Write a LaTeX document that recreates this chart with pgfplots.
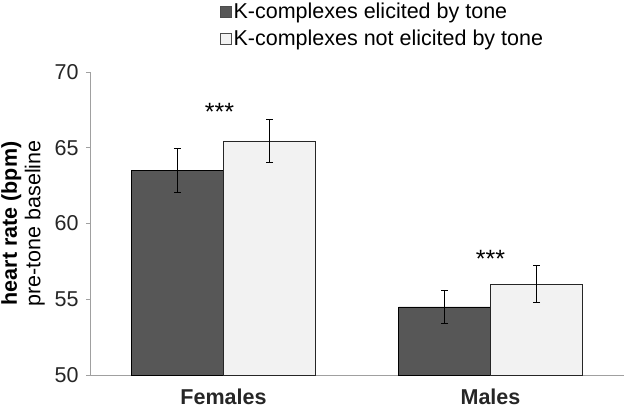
\documentclass[border=0pt]{standalone}
\usepackage{pgfplots}
\pgfplotsset{compat=1.18}
\usepackage{fontspec}
\setmainfont{Liberation Sans}
\definecolor{darkbar}{RGB}{87,87,87}
\definecolor{lightbar}{RGB}{242,242,242}
\definecolor{axgray}{RGB}{160,160,160}
\newcommand{\fs}{\fontsize{21.5bp}{23.5bp}\selectfont}
\begin{document}
\begin{tikzpicture}
\path[use as bounding box] (-90bp,-33bp) rectangle (535bp,375bp);
\begin{axis}[
  at={(0,0)}, anchor=south west,
  scale only axis, width=534bp, height=303bp,
  ybar=0pt, bar width=92bp,
  xmin=0.5, xmax=2.5, ymin=50, ymax=70,
  axis x line=bottom, axis y line=left,
  axis line style={draw=axgray, line width=0.8pt, -},
  x axis line style={-}, y axis line style={-},
  xtick={1,2}, xticklabels={\textbf{Females},\textbf{Males}},
  major x tick style={draw=none},
  extra x ticks={0.5,1.5,2.5}, extra x tick labels={},
  extra x tick style={tick style={draw=axgray, line width=0.8pt}, major tick length=6bp},
  ytick={50,55,60,65,70},
  y tick style={draw=axgray, line width=0.8pt},
  major tick length=4bp,
  tick align=outside,
  /pgf/number format/assume math mode=true,
  tick label style={font=\fs, text=black!85},
  xticklabel style={yshift=-6bp},
  yticklabel style={xshift=-4bp},
  ylabel={\textbf{heart rate (bpm)}\\pre-tone baseline},
  ylabel style={font=\fs, align=center, inner sep=0pt, anchor=south, at={(axis description cs:-0.084,0.5)}},
  legend style={draw=none, fill=none, font=\fs, at={(axis description cs:0.243,1.235)}, anchor=north west, row sep=6bp, inner sep=0pt, /tikz/every even column/.append style={column sep=2bp}},
  legend cell align=left,
  error bars/y dir=both, error bars/y explicit,
  error bars/error bar style={black, line width=0.6pt},
  error bars/error mark options={rotate=90, mark size=3.5bp, line width=0.6pt, black},
]
\addplot[fill=darkbar, draw=black, line width=0.6pt,
  legend image code/.code={\draw[fill=darkbar, draw=black!70] (0bp,-5.5bp) rectangle (11bp,5.5bp);}]
  coordinates {(1,63.5) +- (0,1.47) (2,54.5) +- (0,1.06)};
\addlegendentry{K-complexes elicited by tone}
\addplot[fill=lightbar, draw=black!85, line width=0.6pt,
  legend image code/.code={\draw[fill=lightbar, draw=black!70] (0bp,-5.5bp) rectangle (11bp,5.5bp);}]
  coordinates {(1,65.45) +- (0,1.42) (2,56.0) +- (0,1.23)};
\addlegendentry{K-complexes not elicited by tone}
\node[font=\fontsize{25bp}{27bp}\selectfont, anchor=base, xshift=-4bp] at (axis cs:1,66.8) {***};
\node[font=\fontsize{25bp}{27bp}\selectfont, anchor=base] at (axis cs:2,57.1) {***};
\end{axis}
\end{tikzpicture}
\end{document}
